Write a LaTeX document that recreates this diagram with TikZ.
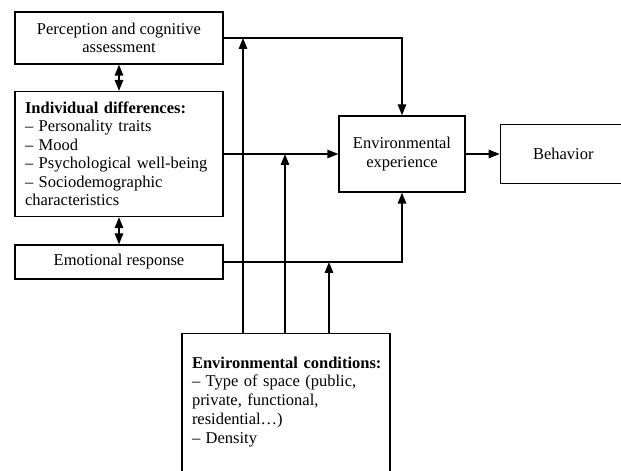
\documentclass[tikz,border=0pt]{standalone}
\usepackage{fontspec}
\setmainfont{Liberation Serif}
\usetikzlibrary{positioning, calc, arrows.meta}

\begin{document}
\begin{tikzpicture}[
  x=1pt, y=1pt,
  >={Triangle[length=11pt, width=8.5pt]}, line width=1.3pt,
  box/.style     = {draw, rectangle, inner sep=0pt, align=center,
                    font=\fontsize{16.5}{18.5}\selectfont},
  sidebox/.style = {box, minimum width=208pt},
  listbox/.style = {sidebox, align=left, text width=188pt},
  listtext/.style = {inner sep=0pt, align=left, text width=200pt,
                    font=\fontsize{16.5}{18.8}\selectfont},
]
  \useasboundingbox (0,0) rectangle (621,471);
  \clip (0,0) rectangle (621,471);

  \node[sidebox, minimum height=52pt]  (perc)   at (119,433) {Perception and cognitive\\assessment};
  \node[listbox, minimum height=125pt] (indiv)  at (119,317)
    {\textbf{Individual differences:}\\
     – Personality traits\\
     – Mood\\
     – Psychological well-being\\
     – Sociodemographic\\
     characteristics};
  \node[sidebox, minimum height=34pt]  (emot)   at (119,209) {Emotional response};

  \node[box, minimum width=126pt, minimum height=76pt] (envexp) at (402,317) {Environmental\\experience};
  \node[box, minimum width=126pt, minimum height=59pt, right=34pt of envexp] (behav) {Behavior};

  \node[sidebox, minimum height=170pt, anchor=north] (envcond) at (286,138) {};
  \node[listtext, anchor=north west] (condtext) at ($(envcond.north west)+(10,-23)$)
    {\textbf{Environmental conditions:}\\
     – Type of space (public,\\
     private, functional,\\
     residential…)\\
     – Density};

  \coordinate (jperc)  at (perc.east -| 243,0);
  \coordinate (jindiv) at (indiv.east -| 285,0);
  \coordinate (jemot)  at (emot.east -| 329,0);

  \draw[<->] (perc)  -- (indiv);
  \draw[<->] (indiv) -- (emot);

  \draw[->] (perc.east)   -| (envexp.north);
  \draw[->] (indiv.east)  -- (envexp.west);
  \draw[->] (emot.east)   -| (envexp.south);
  \draw[->] (envexp.east) -- (behav.west);

  \draw[->] (envcond.north -| jperc)  -- (jperc);
  \draw[->] (envcond.north -| jindiv) -- (jindiv);
  \draw[->] (envcond.north -| jemot)  -- (jemot);
\end{tikzpicture}
\end{document}
